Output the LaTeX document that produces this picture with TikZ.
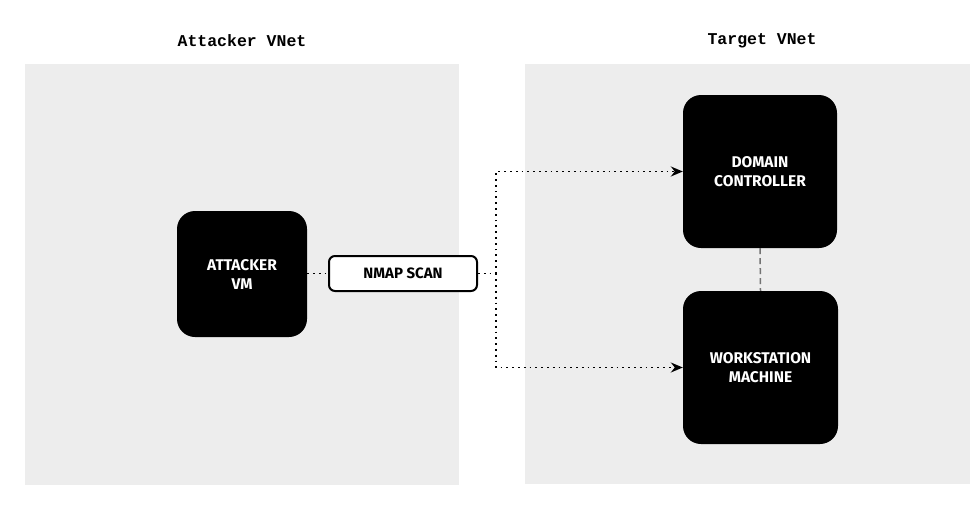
\documentclass[tikz,border=0pt]{standalone}
\usepackage{fontspec}
\setmainfont{Fira Sans}
\newfontfamily\monof{Liberation Mono}
\usetikzlibrary{arrows.meta}
\definecolor{panel}{HTML}{EDEDED}
\begin{document}
\begin{tikzpicture}[x=1pt,y=-1pt,
  panelbox/.style={fill=panel,draw=none},
  blackbox/.style={fill=black,draw=none,rounded corners=18pt,text=white,font=\bfseries\fontsize{15.5}{19}\selectfont,align=center,inner sep=0pt},
  scanbox/.style={fill=white,draw=black,line width=2pt,rounded corners=6pt,font=\bfseries\fontsize{15}{17}\selectfont,inner sep=0pt},
  title/.style={font=\monof\bfseries\fontsize{16.5}{20}\selectfont},
  dotline/.style={line width=1.8pt,dash pattern=on 1.8pt off 4pt},
  dashline/.style={draw=gray!90!black,line width=1.5pt,dash pattern=on 6pt off 4pt},
  tip/.style={-{Stealth[length=12pt,width=10pt,inset=4pt]}}
]
\useasboundingbox (0,0) rectangle (979,514);
\fill[white] (0,0) rectangle (979,514);
\fill[panelbox] (25,64) rectangle (459,485);
\fill[panelbox] (525,64) rectangle (970,484);
\node[title] (t1) at (242,41) {Attacker VNet};
\node[title] (t2) at (762,41) {Target VNet};
\node[blackbox,minimum width=130pt,minimum height=126pt] (att) at (242,274) {ATTACKER\\VM};
\node[scanbox,minimum width=148pt,minimum height=35pt] (scan) at (403,273.5) {NMAP SCAN};
\node[blackbox,minimum width=154pt,minimum height=153pt] (dc) at (760,171.5) {DOMAIN\\CONTROLLER};
\node[blackbox,minimum width=155pt,minimum height=153pt] (ws) at (760.5,367.5) {WORKSTATION\\MACHINE};
\coordinate (j) at (496,273.5);
\draw[dotline] (att.east |- scan.west) -- (scan.west);
\draw[dotline] (scan.east) -- (j);
\draw[dotline,tip] (j) |- (dc.west);
\draw[dotline,tip] (j) |- (ws.west);
\draw[dashline] (dc.south) -- (ws.north);
\end{tikzpicture}
\end{document}
